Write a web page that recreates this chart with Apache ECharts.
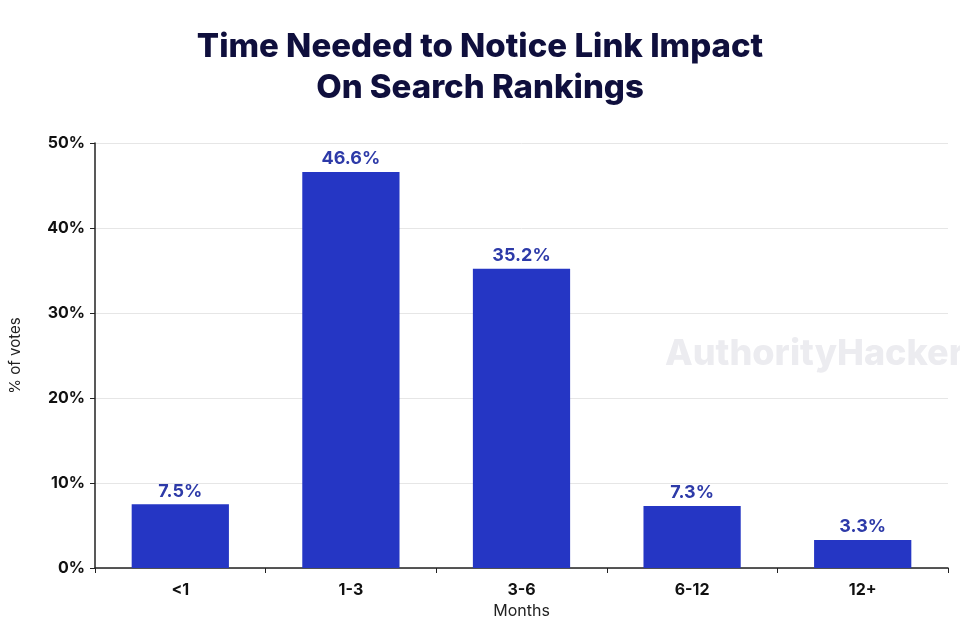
<!DOCTYPE html>
<html><head><meta charset="utf-8">
<script src="https://cdn.jsdelivr.net/npm/echarts@6/dist/echarts.min.js"></script>
<style>html,body{margin:0;padding:0;background:#fff}#c{width:960px;height:636px}</style>
</head><body><div id="c"></div>
<script>
const categories = ['<1', '1-3', '3-6', '6-12', '12+'];
const votes = [7.5, 46.6, 35.2, 7.3, 3.3];
const yTicks = [0, 10, 20, 30, 40, 50];

const chart = echarts.init(document.getElementById('c'));
chart.setOption({
  backgroundColor: '#fff',
  title: {
    text: 'Time Needed to Notice Link Impact\nOn Search Rankings',
    left: 'center', top: 22,
    textStyle: { fontFamily: 'Inter', fontWeight: 800, fontSize: 33, lineHeight: 41, color: '#0f0f3d' }
  },
  graphic: [{
    type: 'text', left: 665, top: 336,
    style: { text: 'AuthorityHacker', fontFamily: 'Inter', fontWeight: 800, fontSize: 36, fill: '#ececf0' }
  }],
  grid: { left: 93, right: 12, top: 143, bottom: 68 },
  xAxis: {
    type: 'category', data: categories,
    name: 'Months', nameLocation: 'middle', nameGap: 32,
    nameTextStyle: { fontFamily: 'Inter', fontSize: 16, color: '#222' },
    axisLine: { lineStyle: { color: '#222', width: 1.5 } },
    axisTick: { show: true, alignWithLabel: false, lineStyle: { color: '#222' } },
    axisLabel: { fontFamily: 'Inter', fontWeight: 700, fontSize: 16, color: '#111', margin: 14 }
  },
  yAxis: {
    type: 'value', min: yTicks[0], max: yTicks[yTicks.length - 1], interval: 10,
    name: '% of votes', nameLocation: 'middle', nameGap: 72,
    nameTextStyle: { fontFamily: 'Inter', fontSize: 15, color: '#222' },
    axisLine: { show: true, lineStyle: { color: '#222', width: 1.5 } },
    axisTick: { show: true, lineStyle: { color: '#222' } },
    splitLine: { lineStyle: { color: '#e6e6e6' } },
    axisLabel: { formatter: '{value}%', fontFamily: 'Inter', fontWeight: 700, fontSize: 16, color: '#111', margin: 10 }
  },
  series: [{
    type: 'bar', data: votes, barWidth: '57%',
    itemStyle: { color: '#2536c4' },
    label: { show: true, position: 'top', formatter: '{c}%', distance: 4,
      fontFamily: 'Inter', fontWeight: 700, fontSize: 18, color: '#2d3aa8' }
  }]
});
</script></body></html>
